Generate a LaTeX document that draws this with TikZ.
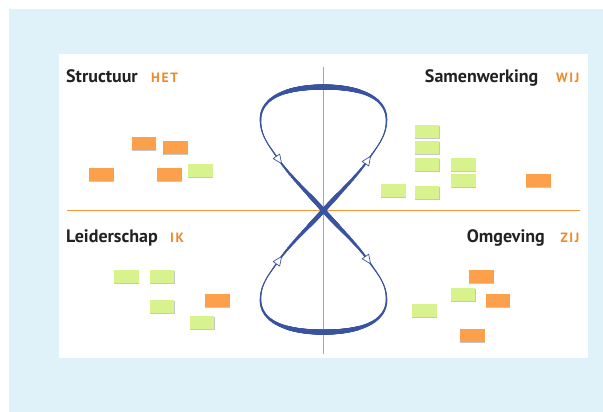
\documentclass[tikz,border=0pt]{standalone}
\usepackage{fontspec}
\setmainfont{PT Sans}
\usetikzlibrary{decorations.markings,shadows}
\definecolor{bgblue}{HTML}{E0F2F9}
\definecolor{axisorange}{HTML}{F5963C}
\definecolor{titleorange}{HTML}{F08828}
\definecolor{loopblue}{HTML}{3A53A0}
\definecolor{noteorange}{HTML}{FDA04C}
\definecolor{notegreen}{HTML}{D8F28E}
\definecolor{titlegray}{HTML}{222222}
\tikzset{
  note/.style={rectangle, minimum width=24.5pt, minimum height=13pt, inner sep=0pt,
    drop shadow={shadow xshift=0.2pt, shadow yshift=-1pt, opacity=0.22, fill=black}},
  onote/.style={note, fill=noteorange},
  gnote/.style={note, fill=notegreen},
  title/.style={inner sep=0pt, text=titlegray, font=\bfseries\fontsize{18}{18}\selectfont},
  tag/.style={inner sep=0pt, text=titleorange, font=\bfseries\fontsize{13.5}{13.5}\selectfont\addfontfeatures{LetterSpace=12}},
  axisline/.style={draw=axisorange, line width=1.3pt},
  brush/.style={decorate, decoration={markings,
    mark=between positions 0 and 1 step 0.35pt with {
      \pgfmathsetmacro\brushpos{\pgfkeysvalueof{/pgf/decoration/mark info/distance from start}/\pgfdecoratedpathlength}
      \pgfmathsetmacro\brushrad{0.5*(3+1.8*cos(720*\brushpos)-0.4*cos(360*\brushpos))}
      \fill[loopblue] (0,0) circle[radius=\brushrad pt];
    }}},
  tipmark/.style={decorate, decoration={markings,
    mark=at position 1 with {
      \filldraw[fill=white, draw=loopblue, line width=0.7pt, line join=round] (4.5,0) -- (-4.5,4) -- (-4.5,-4) -- cycle;
    }}}
}
\begin{document}
\begin{tikzpicture}[x=1pt,y=-1pt]
\useasboundingbox (0,0) rectangle (603,412);
\fill[bgblue] (8.7,9.3) rectangle (603,412);
\fill[white] (59,54.5) rectangle (587.7,357.7);

% axes
\coordinate (vt) at (323.5,66.7);
\coordinate (vb) at (323.5,354);
\coordinate (hl) at (67,210.5);
\coordinate (hr) at (579.6,210.5);
\draw[axisline] (vt) -- (vb);
\draw[axisline] (hl) -- (hr);

% titles
\node[title, anchor=base west] (structuur) at (66,83) {Structuur};
\node[tag, anchor=base west] (het) at (151,83) {HET};
\node[tag, anchor=base east] (wij) at (579.6,83) {WIJ};
\node[title, anchor=base east] (samen) at (538.5,83) {Samenwerking};
\node[title, anchor=base west] (leider) at (66,242) {Leiderschap};
\node[tag, anchor=base west] (ik) at (170,242) {IK};
\node[title, anchor=base east] (omgeving) at (545,242) {Omgeving};
\node[tag, anchor=base east] (zij) at (579.6,242) {ZIJ};

% sticky notes: Structuur
\node[onote] (n1) at (143.8,143.7) {};
\node[onote] (n2) at (175.3,147.7) {};
\node[onote] (n3) at (101.3,174.3) {};
\node[onote] (n4) at (169.3,174.3) {};
\node[gnote] (n5) at (200.5,170) {};
% Samenwerking
\node[gnote] (n6) at (427.2,131.3) {};
\node[gnote] (n7) at (427.2,147.7) {};
\node[gnote] (n8) at (427.2,164) {};
\node[gnote] (n9) at (463.5,164) {};
\node[gnote] (n10) at (463.5,180.7) {};
\node[gnote] (n11) at (393.5,190.7) {};
\node[gnote] (n12) at (427.2,192) {};
\node[onote] (n13) at (538.5,180.7) {};
% Leiderschap
\node[gnote] (n14) at (126.5,276.7) {};
\node[gnote] (n15) at (162.2,276.7) {};
\node[gnote] (n16) at (162.2,306) {};
\node[onote] (n17) at (217.5,300) {};
\node[gnote] (n18) at (202.2,322.7) {};
% Omgeving
\node[onote] (n19) at (481.5,276.7) {};
\node[gnote] (n20) at (463.2,294) {};
\node[onote] (n21) at (497.8,300) {};
\node[gnote] (n22) at (424.5,310.7) {};
\node[onote] (n23) at (472.5,335.3) {};

% figure eight
\coordinate (C) at (323.5,210.5);
\coordinate (AR) at (368,160);
\coordinate (RS) at (386.5,120);
\coordinate (T) at (323.5,87);
\coordinate (LS) at (260.5,120);
\coordinate (AL) at (279,160);
\coordinate (BAR) at (368,260.2);
\coordinate (BRS) at (386.5,299.6);
\coordinate (B) at (323.5,332.1);
\coordinate (BLS) at (260.5,299.6);
\coordinate (BAL) at (279,260.2);

\path[brush] (C) .. controls (340,192) and (357,176) .. (AR)
  .. controls (378,145.5) and (386.5,136) .. (RS)
  .. controls (386.5,97) and (360,87) .. (T)
  .. controls (287,87) and (260.5,97) .. (LS)
  .. controls (260.5,136) and (269,145.5) .. (AL)
  .. controls (290,176) and (307,192) .. (C);
\path[brush] (C) .. controls (340,228.7) and (357,244.5) .. (BAR)
  .. controls (378,274.5) and (386.5,283.9) .. (BRS)
  .. controls (386.5,322.3) and (360,332.1) .. (B)
  .. controls (287,332.1) and (260.5,322.3) .. (BLS)
  .. controls (260.5,283.9) and (269,274.5) .. (BAL)
  .. controls (290,244.5) and (307,228.7) .. (C);

% arrow marks
\path[tipmark] (C) .. controls (340,192) and (357,176) .. (AR);
\path[tipmark] (RS) .. controls (386.5,97) and (360,87) .. (T);
\path[tipmark] (LS) .. controls (260.5,136) and (269,145.5) .. (AL);
\path[tipmark] (C) .. controls (340,228.7) and (357,244.5) .. (BAR);
\path[tipmark] (BRS) .. controls (386.5,322.3) and (360,332.1) .. (B);
\path[tipmark] (BLS) .. controls (260.5,283.9) and (269,274.5) .. (BAL);
\end{tikzpicture}
\end{document}
